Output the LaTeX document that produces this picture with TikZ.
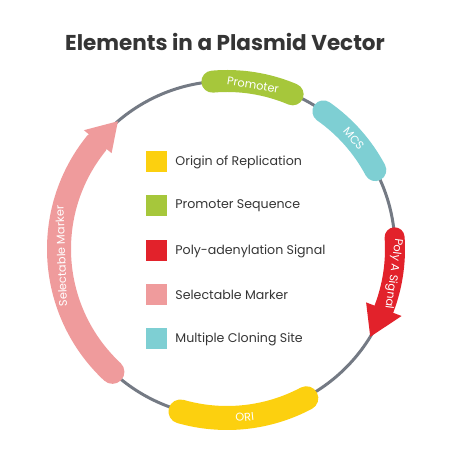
\documentclass[tikz,border=0pt]{standalone}
\usepackage{fontspec}
\setmainfont{Poppins}
\usetikzlibrary{positioning}

\definecolor{ringgray}{HTML}{747A84}
\definecolor{oriyellow}{HTML}{FCD00F}
\definecolor{promgreen}{HTML}{A6C73B}
\definecolor{polyred}{HTML}{E2222B}
\definecolor{selpink}{HTML}{EF9B9C}
\definecolor{mcscyan}{HTML}{7ECFD3}
\definecolor{textdark}{HTML}{353535}

\tikzset{
  legendbox/.style={rectangle, minimum size=21pt, inner sep=0pt},
  legendtxt/.style={anchor=west, text=textdark, font=\fontsize{12.6}{15}\selectfont, inner sep=0pt},
  bandtxt/.style={text=white, font=\fontsize{11.3}{13}\selectfont, inner sep=0pt},
}

\begin{document}
\begin{tikzpicture}[x=1pt, y=1pt]
    \useasboundingbox (0,0) rectangle (450,470);

    % Titel
    \node[text=textdark, font=\fontsize{21.5}{26}\selectfont\bfseries] (title) at (225,428) {Elements in a Plasmid Vector};

    % Ring
    \def\r{168}
    \begin{scope}[shift={(227,221)}]
        \draw[ringgray, line width=3pt] (0,0) circle (\r);

        % Promoter
        \draw[promgreen, line width=22pt, line cap=round] (95:\r) arc[start angle=95, end angle=67, radius=\r];
        \node[bandtxt, rotate=-9] (promLbl) at (81:\r-2) {Promoter};

        % MCS
        \draw[mcscyan, line width=22pt, line cap=round] (55:\r) arc[start angle=55, end angle=28, radius=\r];
        \node[bandtxt, rotate=-49] (mcsLbl) at (41:\r) {MCS};

        % Poly A Signal (Pfeil)
        \draw[polyred, line width=20pt, line cap=round] (4:\r) arc[start angle=4, end angle=-22, radius=\r];
        \fill[polyred] (-21:\r-19) -- (-21:\r+19) -- (-31.5:\r) -- cycle;
        \node[bandtxt, rotate=-98] (polyLbl) at (-8.5:\r) {Poly A Signal};

        % ORI
        \draw[oriyellow, line width=24pt, line cap=round] (-106:\r+1) arc[start angle=-106, end angle=-62, radius=\r+1];
        \node[bandtxt, rotate=6] (oriLbl) at (-84:\r+1) {ORI};

        % Selectable Marker (Pfeil)
        \draw[selpink, line width=24pt, line cap=round] (227:\r) arc[start angle=227, end angle=141, radius=\r];
        \fill[selpink] (140.3:\r-18) -- (140.3:\r+18) -- (130.5:\r) -- cycle;
        \node[bandtxt, rotate=92] (selLbl) at (182.5:\r-2) {Selectable Marker};
    \end{scope}

    % Legende
    \node[legendbox, fill=oriyellow] (oriBox) at (156.5,308) {};
    \node[legendtxt, right=8pt of oriBox] (oriTxt) {Origin of Replication};

    \node[legendbox, fill=promgreen] (promBox) at (156.5,264) {};
    \node[legendtxt, right=8pt of promBox] (promTxt) {Promoter Sequence};

    \node[legendbox, fill=polyred] (polyBox) at (156.5,219) {};
    \node[legendtxt, right=8pt of polyBox] (polyTxt) {Poly-adenylation Signal};

    \node[legendbox, fill=selpink] (selBox) at (156.5,175) {};
    \node[legendtxt, right=8pt of selBox] (selTxt) {Selectable Marker};

    \node[legendbox, fill=mcscyan] (mcsBox) at (156.5,131) {};
    \node[legendtxt, right=8pt of mcsBox] (mcsTxt) {Multiple Cloning Site};
\end{tikzpicture}
\end{document}
